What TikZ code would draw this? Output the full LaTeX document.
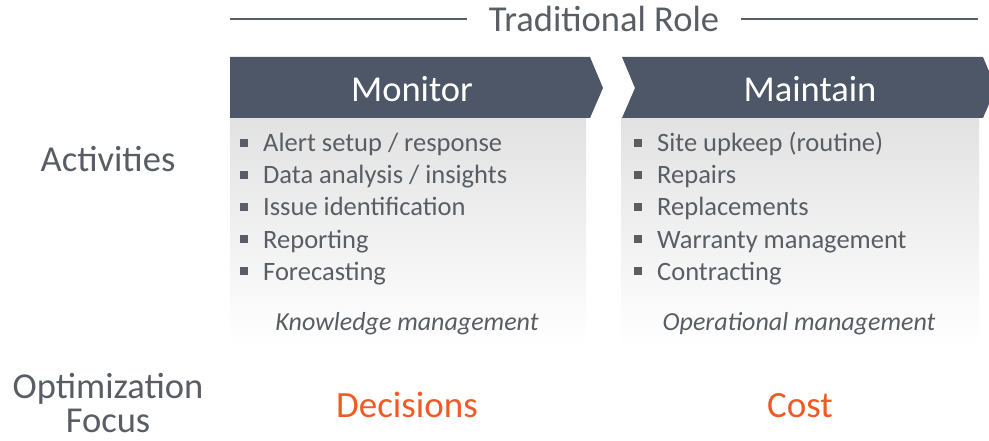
\documentclass[tikz,border=0pt]{standalone}
\usepackage{fontspec}
\setmainfont{Carlito}
\usetikzlibrary{positioning}
\definecolor{headfill}{HTML}{4E5767}
\definecolor{inkgray}{HTML}{595E65}
\definecolor{focusred}{HTML}{F05A24}
\definecolor{panelgray}{HTML}{E2E2E2}
\newcommand{\sqb}{\makebox[23pt][l]{\rule[5pt]{8pt}{8pt}}}
\tikzset{
    header/.style = {fill=headfill, draw=none},
    panel/.style = {top color=panelgray, bottom color=white, draw=none},
    headtext/.style = {text=white, anchor=base, inner sep=0pt, font=\fontsize{36.5}{40}\selectfont},
    rowlabel/.style = {text=inkgray, anchor=base, inner sep=0pt, font=\fontsize{36.5}{40}\selectfont},
    item/.style = {text=inkgray, anchor=base west, inner sep=0pt, font=\fontsize{26.5}{30}\selectfont},
    note/.style = {text=inkgray, anchor=base, inner sep=0pt, font=\fontsize{26}{30}\selectfont\itshape},
    focus/.style = {text=focusred, anchor=base, inner sep=0pt, font=\fontsize{37}{40}\selectfont},
    titleline/.style = {draw=inkgray, line width=1.3pt}
}

\begin{document}
\begin{tikzpicture}[x=1pt,y=-1pt]
\useasboundingbox (0,0) rectangle (989,441);

% title with side lines
\node[rowlabel,inner xsep=22pt] at (604,32) (title) {Traditional Role};
\coordinate (tl) at (230,19);
\coordinate (tr) at (978,19);
\draw[titleline] (tl) -- (tl -| title.west);
\draw[titleline] (tr -| title.east) -- (tr);

% panels and chevrons
\path[panel] (230,118) rectangle (586,345);
\path[panel] (621,118) rectangle (979,345);
\path[header] (230,57) -- (590,57) -- (603,88) -- (590,118) -- (230,118) -- cycle;
\path[header] (622,57) -- (983,57) -- (996,88) -- (983,118) -- (622,118) -- (635,88) -- cycle;
\node[headtext] at (412,102) (monitor) {Monitor};
\node[headtext] at (810,102) (maintain) {Maintain};

% row labels
\node[rowlabel] at (108,172) (activities) {Activities};
\node[rowlabel] at (108,398) (optim) {Optimization};
\node[rowlabel] at (108,432) (focus) {Focus};

% monitor items
\node[item] at (240,152) (mon1) {\sqb Alert setup / response};
\node[item] at (240,184) (mon2) {\sqb Data analysis / insights};
\node[item] at (240,216) (mon3) {\sqb Issue identification};
\node[item] at (240,248) (mon4) {\sqb Reporting};
\node[item] at (240,280) (mon5) {\sqb Forecasting};
\node[note] at (407,330) (monnote) {Knowledge management};

% maintain items
\node[item] at (634,152) (mai1) {\sqb Site upkeep (routine)};
\node[item] at (634,184) (mai2) {\sqb Repairs};
\node[item] at (634,216) (mai3) {\sqb Replacements};
\node[item] at (634,248) (mai4) {\sqb Warranty management};
\node[item] at (634,280) (mai5) {\sqb Contracting};
\node[note] at (799,330) (mainote) {Operational management};

% optimization focus
\node[focus] at (407,417) (decisions) {Decisions};
\node[focus] at (800,417) (cost) {Cost};
\end{tikzpicture}
\end{document}
